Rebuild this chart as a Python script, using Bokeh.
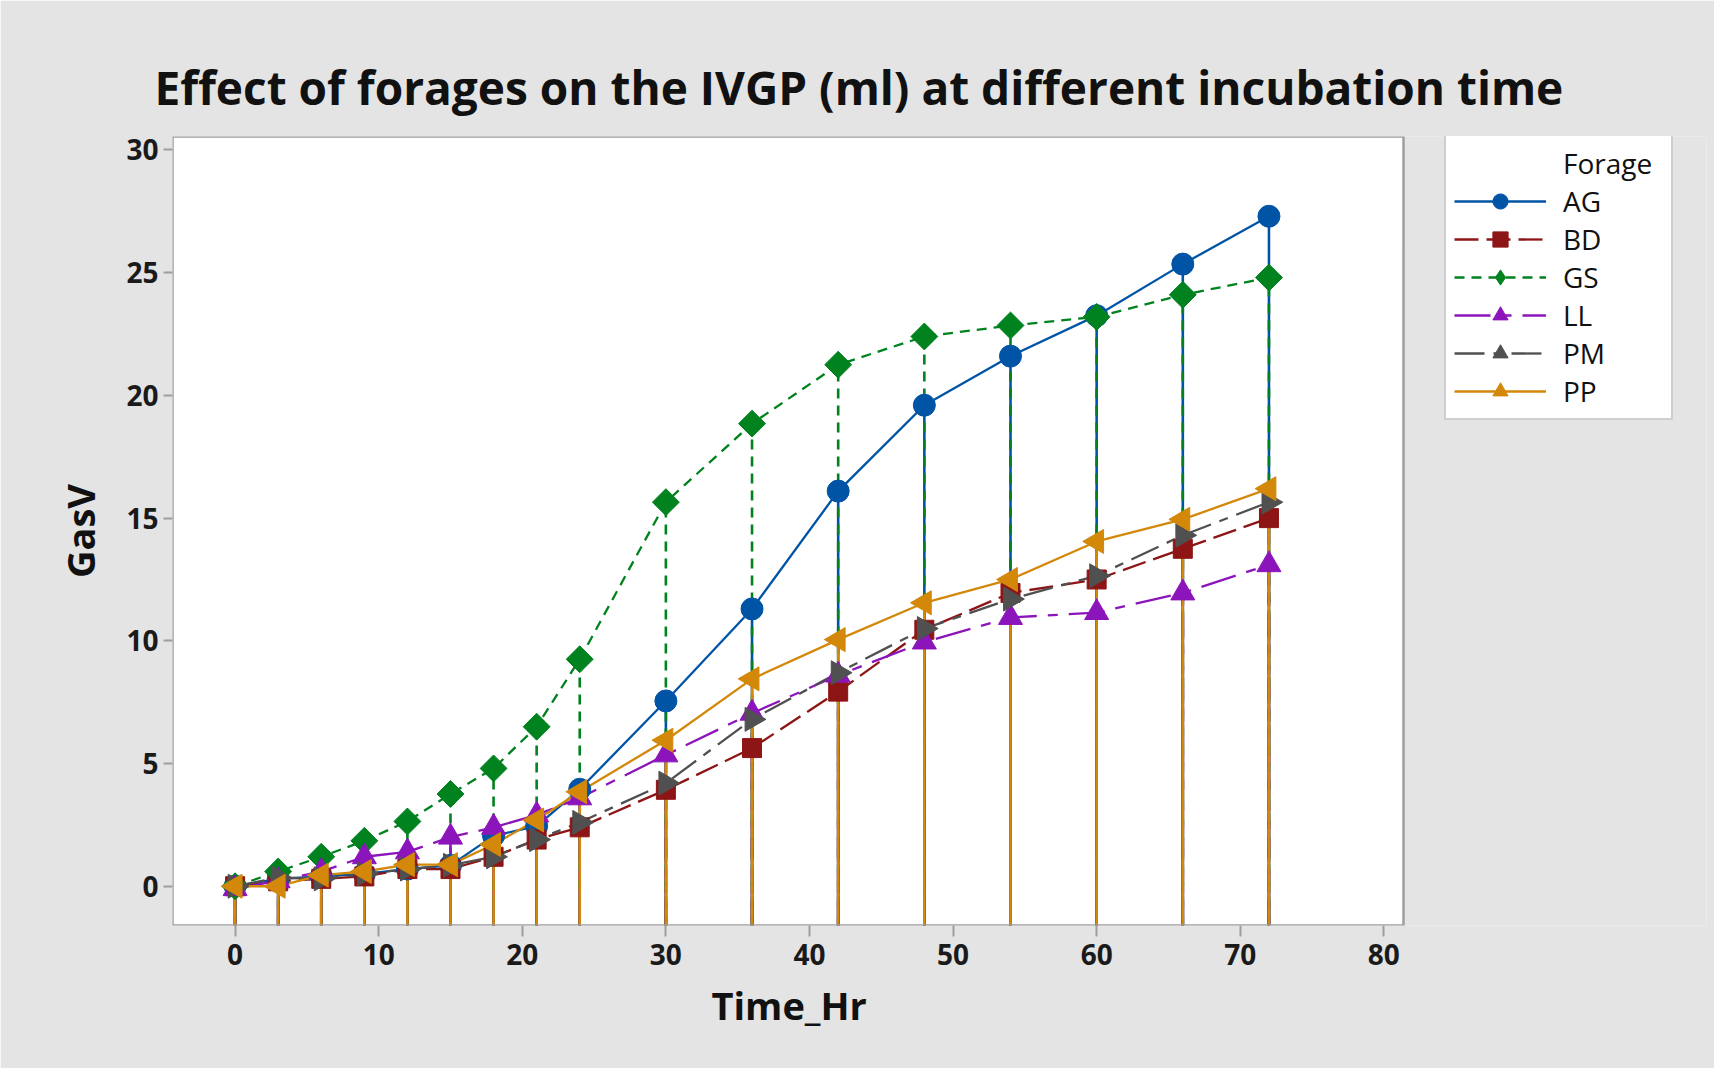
import math
from bokeh.plotting import figure
from bokeh.models import (Range1d, Legend, LegendItem, FixedTicker, ColumnDataSource,
                          BoxAnnotation, Title)
from bokeh.embed import file_html
from bokeh.resources import INLINE

# ---------------- data ----------------
time_hr = [0, 3, 6, 9, 12, 15, 18, 21, 24, 30, 36, 42, 48, 54, 60, 66, 72]
ag = [0.0, 0.3, 0.4, 0.5, 0.7, 0.85, 2.05, 2.45, 3.95, 7.55, 11.3, 16.1, 19.6, 21.6, 23.25, 25.35, 27.3]
bd = [0.0, 0.2, 0.3, 0.4, 0.7, 0.7, 1.2, 1.9, 2.4, 3.93, 5.63, 7.93, 10.45, 11.95, 12.5, 13.75, 15.0]
gs = [0.0, 0.6, 1.2, 1.85, 2.64, 3.76, 4.8, 6.5, 9.25, 15.65, 18.85, 21.25, 22.4, 22.85, 23.2, 24.1, 24.8]
ll = [-0.1, 0.22, 0.6, 1.2, 1.4, 2.0, 2.4, 2.9, 3.6, 5.35, 7.05, 8.6, 9.95, 10.95, 11.15, 11.95, 13.1]
pm = [0.0, 0.35, 0.3, 0.5, 0.7, 0.85, 1.2, 1.9, 2.6, 4.2, 6.8, 8.7, 10.5, 11.7, 12.65, 14.3, 15.65]
pp = [0.0, 0.0, 0.45, 0.6, 0.88, 0.88, 1.7, 2.7, 3.85, 5.95, 8.45, 10.05, 11.55, 12.5, 14.05, 14.95, 16.2]

forages = ["AG", "BD", "GS", "LL", "PM", "PP"]
series = [ag, bd, gs, ll, pm, pp]
x_ticks = [0, 10, 20, 30, 40, 50, 60, 70, 80]
y_ticks = [0, 5, 10, 15, 20, 25, 30]

title_text = "Effect of forages on the IVGP (ml) at different incubation time"
x_label = "Time_Hr"
y_label = "GasV"
legend_title = "Forage"

# ---------------- styles ----------------
colors = ["#0054a6", "#8e1515", "#00821f", "#8c14bb", "#505050", "#d4880a"]
dashes = ["solid", "24 8", "10 7", "36 11 10 11", "30 9 9 9", "solid"]
markers = ["circle", "square", "square", "triangle", "triangle", "triangle"]
legend_markers = ["circle", "square", "diamond", "triangle", "triangle", "triangle"]
angles = [0, 0, math.pi / 4, 0, -math.pi / 2, math.pi / 2]
sizes = [22, 19, 19, 24, 24, 24]

# plot-area data limits
X0, X1 = -4.36, 81.37
Y0, Y1 = -1.6, 30.55

FW, FH = 1714, 1068
BL, BT = 172, 136
plot_w, frame_h = 1231, 789
BR = 8
frame_w = FW - BL - BR            # frame extends under the legend area
BB = FH - BT - frame_h
XE = X0 + (X1 - X0) * frame_w / plot_w

FONT = "Open Sans"
BG = "#e4e4e4"
FRAME = "#9e9e9e"

p = figure(width=FW, height=FH, output_backend="svg", toolbar_location=None,
           x_range=Range1d(X0, XE), y_range=Range1d(Y0, Y1),
           min_border_left=BL, min_border_right=BR, min_border_top=BT, min_border_bottom=BB)

p.background_fill_color = BG
p.border_fill_color = BG
p.outline_line_color = None
p.xgrid.visible = False
p.ygrid.visible = False

# white plot area
p.add_layout(BoxAnnotation(left=X0, right=X1, bottom=Y0, top=Y1,
                           fill_color="white", fill_alpha=1,
                           line_color=None, level="underlay"))
# grey frame around the plot area
p.add_layout(BoxAnnotation(left=X0, right=X1, bottom=Y0, top=Y1,
                           fill_alpha=0, line_color=FRAME, line_alpha=1,
                           line_width=2.5, level="overlay"))

p.title.text = title_text
p.title.text_font = FONT
p.title.text_font_size = "46px"
p.title.text_font_style = "bold"
p.title.text_color = "#111111"
p.title.align = "left"
p.title.offset = -18
p.title.standoff = 38

for ax, ticks in ((p.xaxis[0], x_ticks), (p.yaxis[0], y_ticks)):
    ax.ticker = FixedTicker(ticks=ticks)
    ax.axis_label_text_font = FONT
    ax.axis_label_text_font_size = "38px"
    ax.axis_label_text_font_style = "bold"
    ax.axis_label_text_color = "#111111"
    ax.major_label_text_font = FONT
    ax.major_label_text_font_size = "28px"
    ax.major_label_text_font_style = "bold"
    ax.major_label_text_color = "#1a1a1a"
    ax.axis_line_color = None
    ax.major_tick_line_color = FRAME
    ax.major_tick_line_width = 2
    ax.major_tick_in = 0
    ax.minor_tick_line_color = None

p.yaxis.axis_label = y_label
p.xaxis.major_tick_out = 11
p.xaxis.major_label_standoff = 7
p.yaxis.major_tick_out = 9
p.yaxis.major_label_standoff = 5
p.yaxis.axis_label_standoff = 17

# x-axis title, centred under the plot area
p.add_layout(Title(text=x_label, text_font=FONT, text_font_size="38px",
                   text_font_style="bold", text_color="#111111",
                   align="left", offset=539, standoff=19), "below")

# drop (projection) lines, in series order
for vals, c, d in zip(series, colors, dashes):
    src = ColumnDataSource(dict(x=time_hr, y=vals, y0=[Y0] * len(vals)))
    p.segment(x0="x", y0="y0", x1="x", y1="y", source=src,
              line_color=c, line_width=2.6, line_dash=d)

line_rs = []
for vals, c, d in zip(series, colors, dashes):
    line_rs.append(p.line(time_hr, vals, line_color=c, line_width=2.3, line_dash=d))

for vals, c, m, a, s in zip(series, colors, markers, angles, sizes):
    p.scatter(time_hr, vals, marker=m, angle=a, size=s,
              fill_color=c, line_color=c, line_width=1)

# legend-key marker renderers (a single undefined point, never drawn in the plot)
leg_mark_rs = []
for c, m in zip(colors, legend_markers):
    leg_mark_rs.append(p.scatter([float("nan")], [float("nan")], marker=m, size=10,
                                 fill_color=c, line_color=c))

dummy = p.scatter([], [], size=1, fill_alpha=0, line_alpha=0)

items = [LegendItem(label=legend_title, renderers=[dummy])]
for name, lr, mr in zip(forages, line_rs, leg_mark_rs):
    items.append(LegendItem(label=name, renderers=[lr, mr]))

LEG_PAD, LEG_GH = 8, 38
LEG_H = 2 * LEG_PAD + len(items) * LEG_GH + 2
LEG_X = 1272

legend = Legend(items=items, location=(LEG_X, frame_h - LEG_H))
legend.label_text_font = FONT
legend.label_text_font_size = "28px"
legend.label_text_color = "#111111"
legend.glyph_width = 92
legend.glyph_height = LEG_GH
legend.label_height = 30
legend.label_width = 100
legend.label_standoff = 17
legend.spacing = 0
legend.padding = LEG_PAD
legend.margin = 0
legend.border_line_color = FRAME
legend.border_line_width = 2
legend.background_fill_color = "white"
legend.background_fill_alpha = 1
p.add_layout(legend, "center")

open("out.html", "w").write(file_html(p, INLINE))
